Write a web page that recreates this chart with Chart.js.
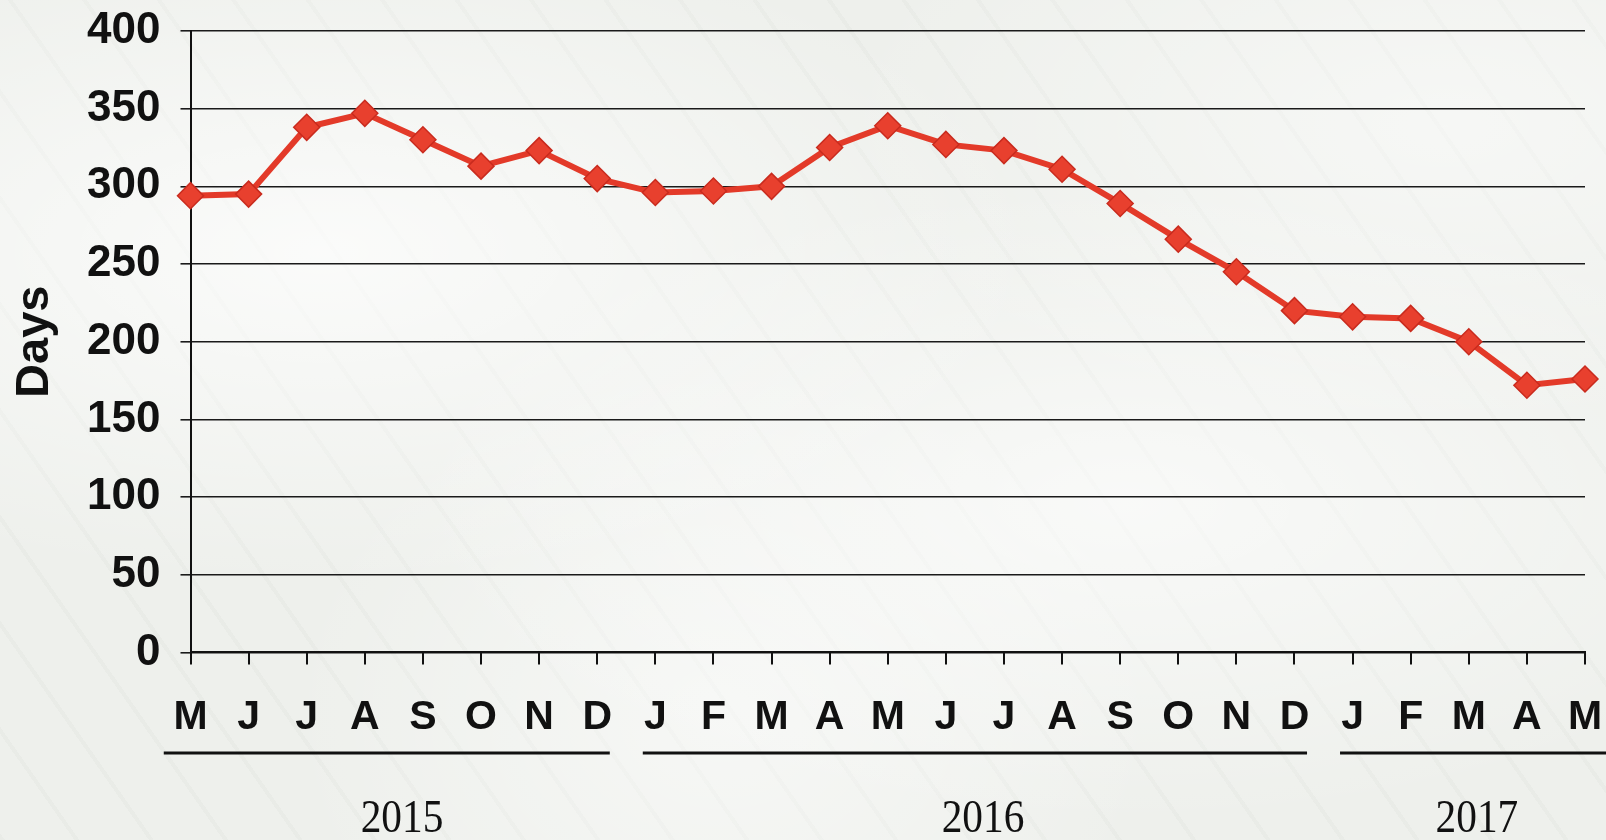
<!DOCTYPE html>
<html>
<head>
<meta charset="utf-8">
<script src="https://cdn.jsdelivr.net/npm/chart.js@4.4.0/dist/chart.umd.min.js"></script>
<style>
  html, body { margin: 0; padding: 0; }
  body {
    width: 1606px; height: 840px; overflow: hidden;
    background-color: #eef0ec;
    background-image:
      radial-gradient(ellipse at 20% 30%, rgba(255,255,255,0.75), rgba(255,255,255,0) 40%),
      radial-gradient(ellipse at 70% 60%, rgba(255,255,255,0.65), rgba(255,255,255,0) 45%),
      radial-gradient(ellipse at 45% 85%, rgba(255,255,255,0.5), rgba(255,255,255,0) 35%),
      radial-gradient(ellipse at 90% 15%, rgba(255,255,255,0.5), rgba(255,255,255,0) 30%),
      repeating-linear-gradient(55deg, rgba(170,178,166,0.07) 0px, rgba(170,178,166,0.07) 4px, rgba(255,255,255,0) 4px, rgba(255,255,255,0) 61px);
  }
  #wrap { position: absolute; left: 0; top: 0; width: 1606px; height: 840px; }
</style>
</head>
<body>
<div id="wrap"><canvas id="c" width="1606" height="840"></canvas></div>
<script>
const months = ['M','J','J','A','S','O','N','D','J','F','M','A','M','J','J','A','S','O','N','D','J','F','M','A','M'];
const days = [294,295,338,347,330,313,323,305,296,297,300,325,339,327,323,311,289,266,245,220,216,215,200,172,176];
const yTicks = [0,50,100,150,200,250,300,350,400];
const years = ['2015','2016','2017'];
const yearFirst = [0, 8, 20];
const yearLast = [7, 19, 24];

const yearPlugin = {
  id: 'years',
  afterDraw(chart) {
    const x = chart.scales.x;
    const ctx = chart.ctx;
    const step = x.getPixelForValue(1) - x.getPixelForValue(0);
    const gap = 16.5;
    ctx.save();
    ctx.strokeStyle = '#111';
    ctx.lineWidth = 3;
    ctx.fillStyle = '#111';
    ctx.font = '47px "Liberation Serif", "Times New Roman", serif';
    ctx.textAlign = 'center';
    ctx.textBaseline = 'middle';
    for (let i = 0; i < years.length; i++) {
      const a = i === 0 ? x.getPixelForValue(yearFirst[i]) - 0.46 * step
                        : x.getPixelForValue(yearFirst[i]) - 0.5 * step + gap;
      const b = i === years.length - 1 ? chart.width
                        : x.getPixelForValue(yearLast[i]) + 0.5 * step - gap;
      ctx.beginPath();
      ctx.moveTo(a, 753);
      ctx.lineTo(b, 753);
      ctx.stroke();
      const c = (x.getPixelForValue(yearFirst[i]) + x.getPixelForValue(yearLast[i])) / 2 + 0.14 * step;
      ctx.save();
      ctx.translate(c, 820);
      ctx.scale(0.88, 1);
      ctx.fillText(years[i], 0, 0);
      ctx.restore();
    }
    ctx.restore();
  }
};

new Chart(document.getElementById('c'), {
  type: 'line',
  data: {
    labels: months,
    datasets: [{
      data: days,
      borderColor: '#e33a29',
      borderWidth: 6,
      pointStyle: 'rectRot',
      pointRadius: 13,
      pointBackgroundColor: '#e8402e',
      pointBorderColor: '#c92b1e',
      pointBorderWidth: 1.5,
      tension: 0,
      clip: false
    }]
  },
  options: {
    responsive: false,
    animation: false,
    devicePixelRatio: 1,
    layout: { autoPadding: false, padding: { top: 31, right: 21, left: 0, bottom: 0 } },
    plugins: { legend: { display: false }, tooltip: { enabled: false } },
    scales: {
      x: {
        type: 'category',
        offset: false,
        grid: { drawOnChartArea: false, drawTicks: true, tickLength: 12, color: '#111', lineWidth: 2 },
        border: { display: true, color: '#111', width: 2 },
        ticks: {
          color: '#111',
          font: { family: '"Liberation Sans", Arial, sans-serif', size: 41, weight: 'bold' },
          padding: 29,
          maxRotation: 0,
          autoSkip: false
        },
        afterFit(s) { s.height = 187.6; s.paddingLeft = 0; s.paddingRight = 0; }
      },
      y: {
        min: 0, max: 400,
        afterBuildTicks(s) { s.ticks = yTicks.map(v => ({ value: v })); },
        grid: { color: '#1a1a1a', lineWidth: 1.6, tickLength: 10, drawTicks: true },
        border: { display: true, color: '#111', width: 2 },
        ticks: {
          color: '#111',
          font: { family: '"Liberation Sans", Arial, sans-serif', size: 44, weight: 'bold' },
          padding: 20
        },
        title: {
          display: true,
          text: 'Days',
          color: '#111',
          font: { family: '"Liberation Sans", Arial, sans-serif', size: 47, weight: 'bold' },
          padding: { top: 7, bottom: 0 }
        },
        afterFit(s) { s.width = 190.5; s.paddingTop = 0; s.paddingBottom = 0; }
      }
    }
  },
  plugins: [yearPlugin]
});
</script>
</body>
</html>
